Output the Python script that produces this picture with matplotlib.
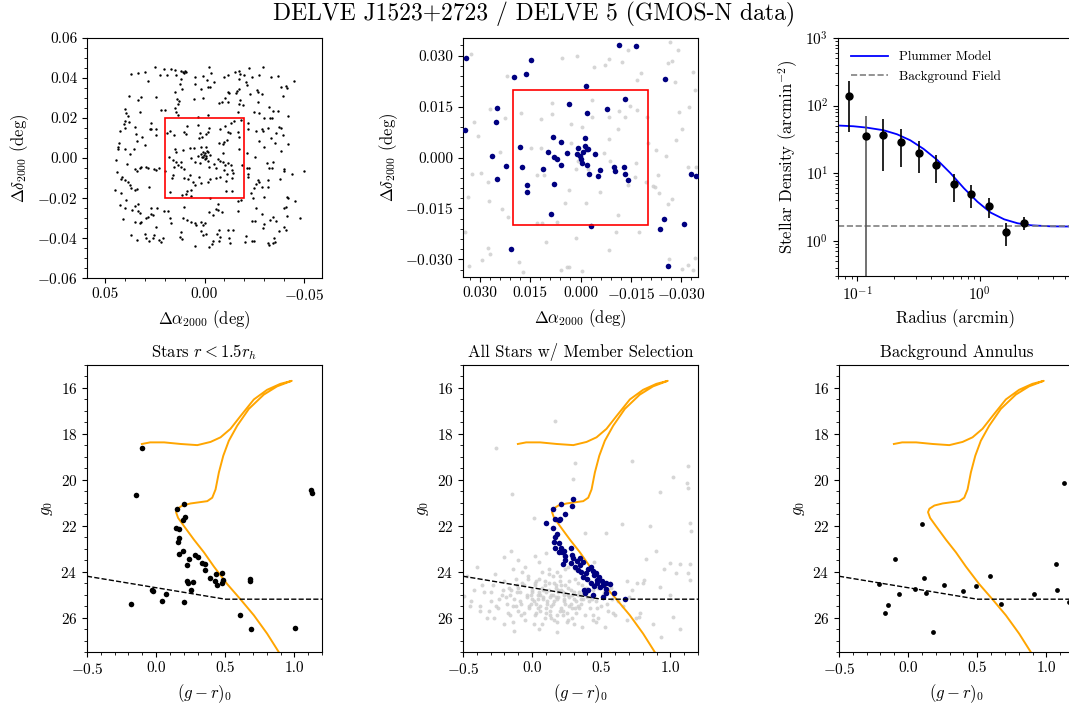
import numpy as np
import matplotlib
matplotlib.use('Agg')
import matplotlib.pyplot as plt
from matplotlib.patches import Rectangle
from matplotlib.ticker import AutoMinorLocator, FixedLocator

plt.rcParams['font.family'] = 'serif'
plt.rcParams['font.serif'] = ['cmr10']
plt.rcParams['mathtext.fontset'] = 'cm'
plt.rcParams['axes.formatter.use_mathtext'] = True
plt.rcParams['font.size'] = 11

# ---- spatial distribution, all stars (offsets in milli-degrees) ----
ne_ra = [25.0, 20.3, 16.7, 15.0, 12.0, 11.0, 10.0, 9.3, 10.3, 36.7, 33.3, 30.0, 22.5, 18.7, 14.2, 5.0, 0.8, 28.3, 12.0, 12.3,
         5.0, 15.0, 11.3, 1.7, 37.8, 32.0, 24.5, 33.3, 13.7, 13.0, 5.3, 0.8, 13.3, 39.7, 39.3, 32.2, 21.7, 19.7, 15.0, 14.2,
         13.3, 38.3, 26.7, 3.3, 40.0, 37.7, 40.3, 35.0, 27.5, 26.7, 24.2, 42.5, 40.0, 17.5, 18.7, 15.3, 34.2, 31.2, 24.5, 8.7,
         3.3, 10.3, 9.5, 2.5, 33.8, 30.0, 43.0, 43.3, 43.5, 2.8, 1.2, 15.0, 14.2, 10.8, 7.5, 5.3, 2.0, 39.7, 35.3, 37.2]
ne_dec = [45.3, 44.7, 44.3, 44.0, 43.5, 43.0, 43.5, 43.0, 42.3, 41.8, 42.3, 42.8, 41.7, 41.3, 41.3, 40.7, 41.0, 38.7, 39.3, 36.8,
          36.8, 33.2, 34.3, 34.3, 31.0, 30.3, 30.7, 29.0, 29.3, 28.5, 29.7, 30.0, 27.0, 24.5, 22.7, 23.2, 24.0, 23.8, 25.2, 22.8,
          21.5, 21.0, 17.7, 20.7, 18.5, 18.2, 17.0, 15.7, 14.3, 14.5, 14.5, 13.7, 14.8, 13.7, 12.3, 11.3, 12.0, 10.3, 11.5, 16.2,
          16.3, 13.2, 11.8, 12.7, 8.3, 6.7, 7.3, 5.3, 4.3, 9.8, 10.7, 4.5, 3.0, 4.0, 4.8, 5.2, 5.3, 4.3, 4.3, 2.0]
nw_ra = [-2.5, -1.3, -3.3, -4.7, -1.7, -3.0, -9.7, -12.0, -15.3, -17.3, -18.0, -20.0, -22.2, -23.8, -27.5, -29.2, -33.3, -36.7,
         -17.5, -20.8, -21.3, -38.3, -40.8, -41.3, -44.7, -11.7, -12.5, -16.3, -17.5, -15.8, -22.8, -26.2, -27.0, -28.7, -39.2,
         -7.5, -8.8, -10.5, -12.0, -18.0, -17.5, -19.2, -16.7, -26.7, -25.0, -27.5, -32.5, -34.2, -37.0, -1.7, -29.7, -33.0,
         -33.8, -42.0, -15.0, -18.3, -13.3, -10.3, -8.0, -2.5, -2.0, -0.8, -21.7, -21.7, -25.8, -28.7, -29.5, -32.0, -37.5,
         -38.3, -35.8, -11.7, -13.0, -16.7, -17.5, -27.5, -30.0, -33.3, -35.5, -39.2, -7.5, -10.0, -11.3, -9.2, -0.8, -1.7,
         -9.2, -17.5, -21.3, -38.3, -41.7]
nw_dec = [45.7, 39.2, 42.7, 38.2, 35.3, 35.3, 40.3, 41.5, 43.2, 43.7, 42.0, 41.5, 44.8, 40.7, 41.5, 45.3, 40.7, 41.0, 39.5,
          38.2, 36.5, 35.7, 36.0, 35.0, 38.7, 33.2, 32.7, 33.7, 34.3, 32.3, 31.8, 34.0, 32.8, 31.8, 31.2, 27.3, 28.2, 29.8,
          28.2, 29.0, 27.0, 26.5, 23.2, 28.2, 23.2, 22.3, 25.3, 23.5, 23.3, 21.5, 20.2, 20.2, 20.2, 21.0, 18.7, 19.0, 17.3,
          16.0, 14.3, 14.8, 13.2, 11.8, 17.3, 14.5, 13.5, 14.3, 13.5, 14.8, 15.3, 14.8, 12.3, 13.2, 12.7, 13.2, 10.3, 8.7,
          5.7, 9.8, 7.7, 11.5, 7.7, 8.2, 9.0, 7.0, 5.7, 3.2, 2.3, 4.3, 2.3, 3.7, 7.0]
se_ra = [44.2, 38.7, 43.7, 42.0, 41.3, 39.7, 38.3, 37.5, 34.7, 33.7, 32.5, 31.7, 29.2, 28.3, 25.3, 24.2, 23.0, 35.0, 33.7, 28.0,
         45.0, 41.7, 37.0, 19.7, 15.3, 15.7, 16.3, 13.3, 11.7, 10.3, 18.0, 15.8, 10.3, 8.3, 7.5, 5.0, 5.8, 3.0, 1.7, 17.5,
         11.3, 9.2, 8.7, 6.7, 7.0, 39.2, 42.5, 40.0, 35.0, 33.3, 36.3, 33.3, 32.5, 26.7, 23.7, 20.3, 18.3, 28.3, 27.0, 25.8,
         29.2, 32.0, 32.5, 35.0, 40.8, 17.5, 17.0, 24.2, 10.3, 10.8, 8.7, 6.7, 5.0, 4.5, 1.7, 0.8, 2.0, 0.8, 37.0, 33.7,
         30.0, 29.2, 28.0, 25.8, 25.3, 23.0, 21.7, 20.8, 12.0, 11.3, 12.5, 5.0, 6.7, 5.0, 2.5, 0.8, 14.2, 12.0]
se_dec = [-1.0, -3.2, -7.2, -10.5, -9.3, -11.0, -11.8, -13.5, -5.5, -6.5, -5.2, -4.7, -4.3, -4.8, -5.5, -6.0, -5.2, -16.0,
          -15.5, -14.3, -16.0, -17.7, -15.2, -6.5, -4.3, -8.5, -9.8, -3.5, -4.3, -5.5, 0.7, -1.0, -10.2, -10.5, -8.5, -13.5,
          -11.8, -9.3, -12.7, -17.2, -18.5, -18.2, -16.5, -16.0, -18.8, -21.0, -23.5, -24.8, -23.8, -23.2, -26.0, -26.5,
          -27.7, -25.2, -25.2, -26.5, -26.5, -29.3, -28.2, -28.5, -29.8, -31.8, -32.7, -32.2, -30.5, -30.2, -32.7, -34.3,
          -24.3, -29.8, -31.0, -31.8, -32.7, -33.5, -31.8, -33.5, -36.5, -38.5, -38.5, -41.0, -38.2, -40.2, -41.5, -39.8,
          -38.5, -41.0, -42.2, -39.8, -36.8, -40.5, -39.3, -43.8, -0.2, -1.8, -2.7, 0.7, -2.2, -1.8]
sw_ra = [-0.8, -2.0, -6.7, -8.0, -9.2, -10.3, -12.0, -13.3, -13.7, -14.2, -11.3, -9.7, -5.8, -5.0, -2.5, -1.7, -3.0, -5.8,
         -8.0, -10.8, -13.7, -10.8, -13.7, -3.0, -18.7, -21.3, -22.5, -21.7, -21.7, -25.3, -31.3, -34.2, -32.5, -33.7, -40.0,
         -39.7, -43.7, -50.0, -38.0, -25.8, -25.0, -27.0, -27.5, -28.7, -31.7, -31.7, -23.3, -24.2, -30.0, -16.7, -18.3,
         -41.3, -41.7, -45.3, -39.7, -40.8, -25.8, -7.0, -5.8, -6.7, -8.7, -2.5, -4.2, -17.0, -28.7, -34.2, -33.0, -35.8,
         -48.0, -41.3, -23.7, -25.3, -29.7, -29.2, -40.0, -37.5, -40.8, 0.0, -7.5, -12.0, -14.2, -0.8, -6.3, -8.0, -12.5,
         -4.2, -7.5, -13.0, -20.8, -20.3, -23.7, -24.7, -31.7, -32.5, -34.2, -35.0, -35.3, -3.7, -2.5]
sw_dec = [-0.2, -1.5, -0.5, -1.5, -2.2, -3.5, -2.7, -3.5, -6.0, -7.7, -8.2, -6.0, -5.2, -3.2, -4.3, -11.8, -10.5, -9.8, -9.3,
          -11.5, -9.8, -16.5, -16.5, -20.2, -3.5, -4.8, -4.8, -8.2, -9.3, 0.7, -2.7, -2.2, -4.8, -5.2, -5.5, -6.5, -8.2, -6.5,
          -10.5, -13.2, -14.8, -11.0, -12.2, -14.3, -11.0, -14.3, -17.7, -20.2, -19.3, -21.5, -21.0, -19.3, -20.2, -21.5,
          -24.8, -24.3, -24.8, -23.2, -25.5, -26.0, -26.8, -26.8, -28.5, -26.5, -28.2, -29.3, -31.0, -31.5, -30.2, -29.0,
          -31.5, -31.5, -33.2, -34.8, -34.3, -36.5, -36.0, -32.7, -36.0, -36.0, -36.0, -38.2, -38.2, -39.3, -39.8, -41.5,
          -41.5, -42.7, -38.8, -41.8, -41.5, -41.5, -42.7, -43.5, -42.7, -40.2, -41.8, -43.2, -44.3]
core_ra = [0.5, -0.5, 1.5, 0.0, -1.0, 2.0, -1.5, 1.0, 3.5, -3.0]
core_dec = [1.5, 2.5, 0.5, -0.5, 1.0, 2.0, 3.5, 3.0, 1.0, 1.5]

# ---- zoomed spatial view: members and field (milli-degrees) ----
mem_ra = [34.0, 34.4, 14.6, 16.3, 19.9, 24.8, 25.2, 26.4, 25.0, 22.1, 17.9, 17.3, 16.0, 16.0, 8.7, 20.8, 8.3, 9.6, 7.8, 6.9,
          5.7, 5.7, 4.1, 11.2, 8.0, 3.3, -1.6, -1.9, -7.8, -13.3, -11.6, -16.4, -25.2, 0.7, 0.9, 0.2, -0.2, -0.3, -0.7, -1.2,
          -1.4, -1.8, -2.2, -2.0, -2.5, -4.4, -5.2, -5.9, -9.9, -10.4, -13.0, -13.3, -14.2, -3.0, -23.8, -24.8, -30.8, -26.1,
          -32.9, -34.3]
mem_dec = [29.2, 8.1, 28.6, 24.5, 23.8, 14.7, 10.5, 0.5, -6.4, -2.6, 3.1, -2.8, -8.2, -10.2, -16.6, -26.9, 6.0, 1.7, 0.2, -0.5,
           4.5, -2.2, 1.3, -3.5, -7.8, 15.7, 21.2, 13.0, 14.3, 17.1, 33.2, 32.8, 23.1, 2.9, 1.1, 0.5, -0.3, -1.7, 1.6, 3.3,
           5.7, 2.6, 2.4, -2.3, -5.0, 0.9, -5.5, -3.7, -2.9, -3.9, -2.9, -5.0, -6.7, -20.3, -21.1, -18.0, -19.5, -32.0,
           -4.9, -5.4]
fld_ra = [32.5, 21.8, 5.5, 1.0, -3.9, -7.3, -8.4, -12.3, -14.1, -16.7, -17.9, -26.7, -29.1, -26.0, -27.3, -33.6, -34.2, -28.1,
          -29.3, -32.2, -30.3, -28.3, -22.6, -25.5, -34.3, -32.0, -20.0, -19.5, -21.5, -22.3, -23.0, -27.3, -26.0, -23.5,
          -16.4, -11.3, -8.6, -8.8, -14.1, -16.2, -17.3, -11.1, -10.6, -8.6, -5.7, -1.7, 3.5, 8.5, 8.6, 11.8, 17.6, 22.5,
          27.1, 31.8, 30.6, 32.2, 29.6, 27.6, 27.3, 23.9, 14.6, 13.0, 11.7, 11.0, 2.9, 2.8, -0.4, -3.4, -3.4, -8.6, -11.6,
          -13.2, -14.6, -16.8, -19.7, 0.7, -2.1, -7.1, 1.4, 4.7, 11.4, 7.0, 5.8, 4.1, 3.4, 1.3, -0.3, 10.4, 13.1, 18.2, 17.0,
          27.6, 29.2, 26.9, 33.2, 23.5, 21.5, -31.9, -33.4, -34.2, -30.3, -26.3, 34.4, 33.6]
fld_dec = [30.4, 24.0, 29.2, 29.9, 26.7, 27.1, 28.9, 28.0, 31.7, 22.8, 25.0, 33.9, 31.7, 27.7, 28.5, 25.2, 19.9, 22.3, 13.5,
           14.9, 8.3, 5.3, 2.2, 0.4, -2.9, -2.8, 4.3, -7.2, -8.5, -8.8, -5.2, -12.1, -13.8, -10.6, -1.5, 8.3, 5.5, -1.0,
           -8.2, -5.7, -21.9, -17.0, -21.9, -27.3, -10.1, -13.3, -9.6, 16.1, 12.7, 11.2, 13.2, 11.5, 14.3, 10.5, 6.4, -5.0,
           -4.7, -7.1, -12.8, 1.7, 2.9, -5.3, 2.9, -5.2, 9.8, 4.3, 9.0, 16.9, 11.8, 12.0, 13.8, 11.8, 15.1, 14.0, 11.8, -1.1,
           -3.5, 1.3, -3.5, -13.3, -19.2, -18.9, -33.2, -32.4, -32.3, -23.6, -33.4, -25.0, -19.2, -30.7, -33.6, -26.8,
           -30.3, -28.3, -31.9, -15.3, -17.4, -31.8, -33.2, -29.6, -32.8, -29.8, -21.9, -11.6]

# ---- radial profile ----
prof_r = [0.0849, 0.118, 0.1636, 0.2286, 0.317, 0.440, 0.611, 0.849, 1.186, 1.646, 2.30]
prof_dens = [139, 35.5, 36.8, 28.9, 20.1, 13.1, 6.83, 4.92, 3.30, 1.33, 1.85]
prof_hi = [232, 70.3, 62.8, 45.1, 30.0, 18.6, 9.6, 6.68, 4.34, 1.81, 2.27]
prof_lo = [41.2, 0.01, 10.9, 12.5, 10.2, 7.2, 3.78, 3.08, 2.19, 0.83, 1.44]
model_r = [0.0721, 0.0927, 0.119, 0.164, 0.211, 0.271, 0.348, 0.449, 0.578, 0.744, 0.957, 1.231, 1.585, 2.04, 2.62, 3.83, 5.6]
model_dens = [50.5, 49.4, 47.2, 43.1, 37.6, 30.6, 22.8, 15.7, 9.95, 5.96, 3.78, 2.60, 2.07, 1.81, 1.69, 1.63, 1.62]
background = 1.63

# ---- CMDs ----
iso_gr = [0.887, 0.803, 0.707, 0.611, 0.514, 0.418, 0.346, 0.274, 0.202, 0.159, 0.144, 0.154, 0.190, 0.250, 0.322, 0.370,
          0.406, 0.430, 0.454, 0.486, 0.526, 0.587, 0.671, 0.779, 0.875, 0.981, 0.899, 0.803, 0.707, 0.611, 0.538, 0.466,
          0.394, 0.298, 0.178, 0.058, -0.043, -0.103]
iso_g = [27.50, 26.70, 25.90, 25.21, 24.54, 23.78, 23.16, 22.61, 22.02, 21.66, 21.41, 21.26, 21.12, 21.03, 20.97, 20.93,
         20.78, 20.42, 19.68, 18.95, 18.30, 17.64, 16.91, 16.29, 15.93, 15.69, 15.82, 16.08, 16.50, 17.22, 17.78, 18.15,
         18.35, 18.49, 18.44, 18.37, 18.37, 18.44]
lim_gr = [-0.5, 0.5, 1.2]
lim_g = [24.2, 25.2, 25.2]

inner_gr = [-0.101, -0.143, 0.203, 0.150, 0.208, 0.193, 0.147, 0.169, 0.164, 0.157, 0.198, 0.162, 0.283, 0.304, 0.239, 0.331,
            0.350, 0.225, 0.353, 0.389, 0.432, 0.473, 0.481, 0.425, 0.440, 0.473, 0.225, 0.232, 0.266, 0.249, 0.681, 0.676,
            -0.027, -0.022, 0.068, 0.041, 0.203, -0.184, 0.604, 0.686, 1.002, 1.123, 1.130]
inner_g = [18.60, 20.65, 21.07, 21.29, 21.64, 21.75, 22.08, 22.15, 22.52, 22.73, 23.11, 23.25, 23.28, 23.37, 23.44, 23.63,
           23.68, 23.69, 23.92, 24.26, 24.10, 24.04, 24.36, 24.39, 24.58, 24.51, 24.42, 24.51, 24.46, 24.82, 24.30, 24.41,
           24.80, 24.86, 24.99, 25.28, 25.31, 25.43, 25.87, 26.48, 26.47, 20.43, 20.59]

memcmd_gr = [0.298, 0.288, 0.209, 0.149, 0.236, 0.200, 0.195, 0.168, 0.099, 0.149, 0.183, 0.168, 0.159, 0.163, 0.197, 0.207,
             0.197, 0.231, 0.216, 0.236, 0.238, 0.224, 0.279, 0.288, 0.298, 0.281, 0.308, 0.327, 0.346, 0.349, 0.370, 0.332,
             0.356, 0.370, 0.389, 0.404, 0.423, 0.438, 0.447, 0.462, 0.466, 0.486, 0.505, 0.510, 0.534, 0.466, 0.490, 0.538,
             0.394, 0.423, 0.447, 0.406, 0.375, 0.385, 0.442, 0.510, 0.538, 0.591, 0.675, 0.567]
memcmd_g = [20.85, 21.15, 21.07, 21.29, 21.47, 21.70, 21.77, 21.70, 21.89, 22.10, 22.35, 22.51, 22.73, 22.99, 22.74, 22.99,
            23.16, 23.08, 23.15, 23.34, 23.49, 23.66, 22.99, 23.27, 23.41, 23.63, 23.81, 23.54, 23.72, 23.41, 23.59, 23.92,
            24.01, 24.22, 24.07, 23.89, 23.81, 23.98, 24.14, 24.04, 24.36, 24.22, 24.42, 24.60, 24.48, 24.51, 24.65, 24.77,
            24.33, 24.48, 24.63, 24.80, 24.80, 24.95, 25.02, 25.12, 24.95, 24.95, 25.18, 24.54]

allsparse_gr = [0.166, -0.264, -0.147, 0.310, 0.298, 0.719, 1.019, 1.127, 1.120, 1.127, 0.928, 0.851, 0.647, 1.139, 1.151,
                0.017, -0.154, -0.207, -0.099, 0.382, 0.538, 0.827, 0.894, 0.995, 1.067, 1.144, 1.127, 1.144, 1.043, 0.952,
                0.760, 0.808, 0.683, 0.726, 0.923, 0.995, -0.490, -0.452, -0.375, -0.274, -0.171, -0.139, 0.178, 0.442,
                0.587, 0.683, 0.779, 0.875, 1.019, 1.067, 0.935, 0.774]
allsparse_g = [17.42, 18.63, 20.61, 19.25, 19.98, 19.17, 19.86, 19.39, 20.15, 20.34, 20.52, 22.02, 21.92, 21.88, 22.24,
               21.67, 23.08, 23.37, 23.49, 22.32, 22.32, 23.46, 23.11, 23.63, 23.66, 23.66, 24.07, 24.36, 24.07, 23.89,
               24.48, 24.36, 24.39, 24.80, 24.65, 25.02, 25.06, 25.50, 25.71, 26.00, 25.82, 26.20, 26.63, 26.12, 25.82,
               26.12, 25.82, 26.26, 25.97, 26.48, 26.85, 25.97]
allfaint_gr = [-0.35, -0.30, -0.28, -0.25, -0.22, -0.20, -0.18, -0.16, -0.15, -0.13, -0.12, -0.10, -0.09, -0.08, -0.06, -0.05,
               -0.04, -0.03, -0.02, 0.00, 0.01, 0.02, 0.03, 0.04, 0.05, 0.06, 0.07, 0.08, 0.09, 0.10, 0.11, 0.12, 0.13, 0.14,
               0.15, 0.16, 0.17, 0.18, 0.19, 0.20, 0.21, 0.22, 0.23, 0.24, 0.25, 0.26, 0.27, 0.28, 0.30, 0.31, 0.32, 0.33,
               0.35, 0.36, 0.38, 0.40, 0.42, 0.44, 0.46, 0.48, 0.50, 0.52, 0.55, 0.58, -0.27, -0.14, 0.05, 0.10, 0.12, 0.02,
               -0.05, 0.18, 0.26, -0.11, 0.07, 0.16, 0.29, 0.36, -0.20, 0.02, -0.07, 0.22, 0.13, 0.04, -0.01, 0.09, 0.19,
               0.28, 0.34, 0.41, 0.46, 0.53, -0.38, -0.42, -0.33, 0.60, 0.56, 0.38, 0.31, 0.45]
allfaint_g = [24.9, 25.3, 24.6, 25.6, 25.0, 24.4, 25.4, 25.9, 24.8, 25.2, 24.3, 25.7, 24.9, 25.4, 24.6, 26.1, 25.1, 24.2, 25.5,
              24.8, 25.3, 24.5, 25.8, 25.0, 24.3, 25.5, 24.7, 25.2, 26.0, 24.9, 25.4, 24.5, 25.7, 25.0, 24.2, 25.3, 24.7, 25.9,
              25.1, 24.4, 25.6, 24.9, 25.3, 24.6, 26.2, 25.0, 25.5, 24.8, 25.2, 24.3, 25.8, 25.0, 25.4, 24.6, 25.9, 25.1, 25.6,
              24.8, 25.3, 26.0, 25.5, 24.9, 25.7, 25.2, 24.1, 23.9, 23.6, 23.2, 23.9, 23.3, 23.8, 24.0, 23.8, 24.6, 26.3, 26.1,
              26.0, 26.4, 26.3, 25.9, 24.0, 25.7, 25.1, 25.6, 25.0, 24.6, 24.8, 25.4, 24.9, 24.4, 26.2, 26.4, 25.5, 24.8, 26.0,
              25.9, 24.5, 24.2, 23.9, 23.6]
allcore_gr = [-0.19, -0.17, -0.14, -0.11, -0.09, -0.07, -0.04, -0.02, 0.00, 0.02, 0.03, 0.05, 0.06, 0.08, 0.09, 0.11, 0.12,
              0.14, 0.15, 0.17, 0.18, 0.20, 0.21, 0.23, 0.24, 0.26, 0.27, 0.29, 0.30, 0.32, 0.33, 0.35, 0.37, 0.39, 0.42,
              0.45, -0.24, -0.21, -0.16, -0.12, -0.06, -0.01, 0.04, 0.08, 0.13, 0.17, 0.21, 0.25, 0.29, 0.33, 0.37, 0.41,
              0.44, 0.48, -0.30, -0.26, -0.10, 0.00, 0.06, 0.10, 0.15, 0.19, 0.23, 0.27, 0.31, 0.35, 0.40, -0.44, -0.36,
              -0.31, 0.12, 0.20, 0.24, 0.03, -0.03, 0.07, 0.16, 0.10, 0.14, 0.18, 0.22, 0.26, 0.05, 0.01, -0.08, -0.13,
              0.30, 0.34, 0.43, 0.51, 0.57, 0.62, 0.66, 0.70, 0.75, 0.80, -0.47, -0.40, 0.47, 0.54]
allcore_g = [25.1, 24.7, 25.5, 24.9, 25.3, 24.5, 25.0, 25.6, 25.2, 24.6, 25.4, 24.9, 25.7, 25.1, 24.4, 25.3, 24.8, 25.5,
             25.0, 24.6, 25.2, 25.7, 24.8, 25.0, 25.4, 24.7, 25.1, 25.6, 24.9, 25.3, 24.5, 25.0, 25.2, 24.7, 25.1, 24.6,
             25.2, 24.8, 25.0, 25.5, 25.8, 25.4, 25.2, 24.8, 25.9, 25.1, 24.6, 25.8, 25.0, 25.5, 24.9, 25.3, 25.9, 24.7,
             24.9, 25.5, 24.7, 24.9, 25.0, 25.6, 25.4, 24.9, 25.2, 24.4, 25.6, 25.2, 24.9, 25.3, 24.6, 25.7, 24.1, 24.2,
             23.9, 24.4, 24.3, 24.0, 24.5, 25.8, 26.0, 26.2, 25.9, 26.1, 26.5, 26.3, 25.9, 26.6, 26.3, 25.6, 25.2, 25.0,
             24.7, 25.3, 25.5, 25.1, 26.0, 24.5, 24.2, 23.8, 25.6, 25.4]

bkg_gr = [0.099, -0.094, 1.126, 1.068, 0.592, 0.116, -0.210, 0.256, 0.493, 0.048, 0.126, 0.396, -0.065, 0.908, 1.075,
          -0.143, -0.167, 0.669, 0.181, 1.162]
bkg_g = [21.91, 23.46, 20.15, 23.66, 24.19, 24.26, 24.55, 24.60, 24.63, 24.77, 24.92, 24.86, 24.98, 24.98, 24.80, 25.46,
         25.82, 25.43, 26.64, 25.31]

W, H = 1069, 706
fig = plt.figure(figsize=(W / 100, H / 100), dpi=100)


def box(x0, y0, x1, y1):
    return [x0 / W, 1 - y1 / H, (x1 - x0) / W, (y1 - y0) / H]


def red_box(ax):
    ax.add_patch(Rectangle((-0.02, -0.02), 0.04, 0.04, fill=False, ec='red', lw=1.2, zorder=5))


# top left: all stars
ax = fig.add_axes(box(87, 38, 322, 278))
all_ra = np.concatenate([ne_ra, nw_ra, se_ra, sw_ra, core_ra]) / 1000
all_dec = np.concatenate([ne_dec, nw_dec, se_dec, sw_dec, core_dec]) / 1000
ax.scatter(all_ra, all_dec, s=3, c='k', lw=0)
red_box(ax)
ax.set_xlim(0.059, -0.059)
ax.set_ylim(-0.06, 0.06)
ax.xaxis.set_major_locator(FixedLocator([0.05, 0.0, -0.05]))
ax.set_xticklabels(['0.05', '0.00', '$-$0.05'])
ax.yaxis.set_major_locator(FixedLocator([-0.06, -0.04, -0.02, 0.0, 0.02, 0.04, 0.06]))
ax.set_yticklabels(['$-$0.06', '$-$0.04', '$-$0.02', '0.00', '0.02', '0.04', '0.06'])
ax.xaxis.set_minor_locator(AutoMinorLocator(5))
ax.yaxis.set_minor_locator(AutoMinorLocator(4))
ax.set_xlabel(r'$\Delta\alpha_{2000}$ (deg)', fontsize=12)
ax.set_ylabel(r'$\Delta\delta_{2000}$ (deg)', fontsize=12)

# top middle: zoomed members
ax = fig.add_axes(box(463, 38, 698, 277))
ax.scatter(np.array(fld_ra) / 1000, np.array(fld_dec) / 1000, s=8, c='0.8', lw=0, alpha=0.8)
ax.scatter(np.array(mem_ra) / 1000, np.array(mem_dec) / 1000, s=16, c='navy', lw=0, zorder=3)
red_box(ax)
ax.set_xlim(0.035, -0.035)
ax.set_ylim(-0.0352, 0.0352)
tk = [0.03, 0.015, 0.0, -0.015, -0.03]
tl = ['0.030', '0.015', '0.000', '$-$0.015', '$-$0.030']
ax.xaxis.set_major_locator(FixedLocator(tk))
ax.set_xticklabels(tl)
ax.yaxis.set_major_locator(FixedLocator(tk))
ax.set_yticklabels(tl)
ax.xaxis.set_minor_locator(AutoMinorLocator(5))
ax.yaxis.set_minor_locator(AutoMinorLocator(5))
ax.set_xlabel(r'$\Delta\alpha_{2000}$ (deg)', fontsize=12)
ax.set_ylabel(r'$\Delta\delta_{2000}$ (deg)', fontsize=12)

# top right: radial profile
ax = fig.add_axes(box(838, 38, 1074, 276))
ax.plot(model_r, model_dens, color='blue', lw=1.3, label='Plummer Model')
ax.axhline(background, color='gray', ls='--', lw=1.2, label='Background Field')
dens = np.array(prof_dens)
lo = dens - np.array(prof_lo)
hi = np.array(prof_hi) - dens
ok = np.arange(len(dens)) != 1
ax.errorbar(np.array(prof_r)[ok], dens[ok], yerr=[lo[ok], hi[ok]], fmt='o', color='k', ms=5, elinewidth=1.2, capsize=0)
ax.errorbar(np.array(prof_r)[~ok], dens[~ok], yerr=[lo[~ok], hi[~ok]], fmt='o', color='k', ecolor='0.35',
            ms=5, elinewidth=1.2, capsize=0)
ax.set_xscale('log')
ax.set_yscale('log')
ax.set_xlim(0.0695, 5.9)
ax.set_ylim(0.3, 1000)
ax.set_xlabel('Radius (arcmin)', fontsize=12)
ax.set_ylabel(r'Stellar Density (arcmin$^{-2}$)', fontsize=12)
ax.legend(loc='upper left', frameon=False, fontsize=9.5, handlelength=2.8, borderaxespad=0.6)


def cmd_axes(x0, title):
    a = fig.add_axes(box(x0, 365, x0 + 235, 652))
    a.plot(iso_gr, iso_g, color='orange', lw=1.4, zorder=2)
    a.plot(lim_gr, lim_g, 'k--', lw=1.0, zorder=4)
    a.set_xlim(-0.5, 1.2)
    a.set_ylim(27.5, 15)
    a.set_xticks([-0.5, 0.0, 0.5, 1.0])
    a.set_xticklabels(['$-$0.5', '0.0', '0.5', '1.0'])
    a.set_yticks([16, 18, 20, 22, 24, 26])
    a.xaxis.set_minor_locator(AutoMinorLocator(5))
    a.yaxis.set_minor_locator(AutoMinorLocator(4))
    a.set_xlabel(r'$(g-r)_0$', fontsize=12)
    a.set_ylabel(r'$g_0$', fontsize=12)
    a.set_title(title, fontsize=12)
    return a


ax = cmd_axes(87, r'Stars $r < 1.5r_h$')
ax.scatter(inner_gr, inner_g, s=16, c='k', lw=0, zorder=3)

ax = cmd_axes(463, 'All Stars w/ Member Selection')
for gr, g in [(allsparse_gr, allsparse_g), (allfaint_gr, allfaint_g), (allcore_gr, allcore_g)]:
    ax.scatter(gr, g, s=8, c='0.8', lw=0, alpha=0.8, zorder=1)
ax.scatter(memcmd_gr, memcmd_g, s=16, c='navy', lw=0, zorder=3)

ax = cmd_axes(839, 'Background Annulus')
ax.scatter(bkg_gr, bkg_g, s=12, c='k', lw=0, zorder=3)

fig.text(0.5, 1 - 14 / H, 'DELVE J1523+2723 / DELVE 5 (GMOS-N data)', ha='center', va='center', fontsize=17)

fig.savefig('out.png', dpi=100)
